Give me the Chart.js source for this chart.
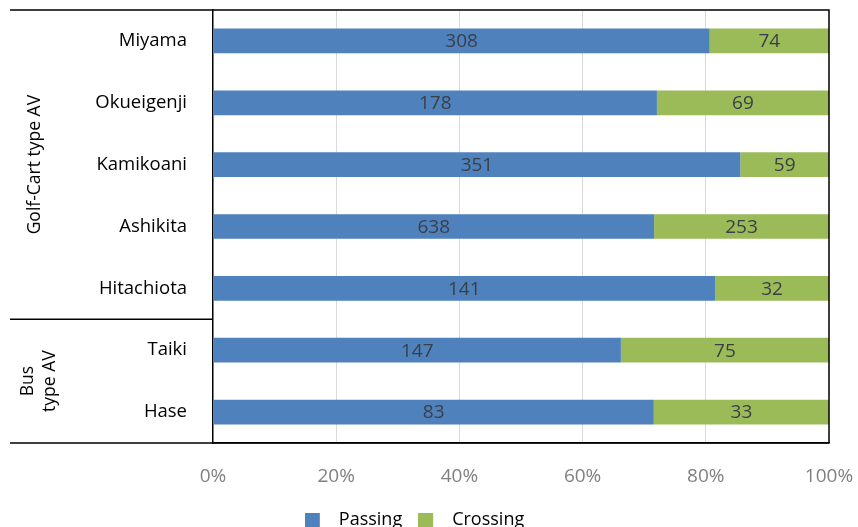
<!DOCTYPE html>
<html>
<head>
<meta charset="utf-8">
<script src="https://cdn.jsdelivr.net/npm/chart.js@4/dist/chart.umd.min.js"></script>
<style>
  html, body { margin: 0; padding: 0; background: #fff; }
  #wrap { width: 858px; height: 527px; position: relative; }
</style>
</head>
<body>
<div id="wrap"><canvas id="c"></canvas></div>
<script>
// Sites surveyed and the counts observed at each
const sites = ['Miyama', 'Okueigenji', 'Kamikoani', 'Ashikita', 'Hitachiota', 'Taiki', 'Hase'];
const passing = [308, 178, 351, 638, 141, 147, 83];
const crossing = [74, 69, 59, 253, 32, 75, 33];
const seriesNames = ['Passing', 'Crossing'];
const seriesColors = ['#4f81bd', '#9bbb59'];
// Vehicle-type groups (inclusive index ranges into sites)
const groupLabels = [['Golf-Cart type AV'], ['Bus', 'type AV']];
const groupRanges = [[0, 4], [5, 6]];

const FONT = "'Open Sans', 'Liberation Sans', sans-serif";

const totals = sites.map((_, i) => passing[i] + crossing[i]);
const share = arr => arr.map((v, i) => v / totals[i] * 100);
const counts = [passing, crossing];

// Fixed axis sizes with no label overhang, so the plot area stays put
const noOverhang = s => { s.paddingTop = s.paddingBottom = s.paddingLeft = s.paddingRight = 0; };

// Legend swatch: a 15px square on the left of a wider transparent cell,
// which leaves a wider gap before the legend text
const SWATCH_CELL = 25;
function swatch(color) {
  const c = document.createElement('canvas');
  c.width = SWATCH_CELL; c.height = 15;
  const g = c.getContext('2d');
  g.fillStyle = color;
  g.fillRect(0, 0, 15, 15);
  return c;
}
const swatches = seriesColors.map(swatch);

// Writes the raw count in the middle of each bar segment
const segmentLabels = {
  id: 'segmentLabels',
  afterDatasetsDraw(chart) {
    const ctx = chart.ctx;
    ctx.save();
    ctx.font = '19px ' + FONT;
    ctx.fillStyle = '#3a3f47';
    ctx.textAlign = 'center';
    ctx.textBaseline = 'middle';
    chart.data.datasets.forEach((ds, d) => {
      chart.getDatasetMeta(d).data.forEach((bar, i) => {
        ctx.fillText(String(counts[d][i]), (bar.x + bar.base) / 2, bar.y + 1);
      });
    });
    ctx.restore();
  }
};

// Outer frame, group separator and rotated group captions on the left
const groupFrame = {
  id: 'groupFrame',
  afterDraw(chart) {
    const { ctx, chartArea: a } = chart;
    const y = chart.scales.y;
    const left = 10;
    ctx.save();
    ctx.strokeStyle = '#000';
    ctx.lineWidth = 1.5;
    ctx.beginPath();
    ctx.moveTo(left, a.top); ctx.lineTo(a.right, a.top);
    ctx.lineTo(a.right, a.bottom);
    ctx.moveTo(left, a.bottom); ctx.lineTo(a.right, a.bottom);
    const step = y.getPixelForValue(1) - y.getPixelForValue(0);
    for (let g = 0; g < groupRanges.length - 1; g++) {
      const yy = y.getPixelForValue(groupRanges[g][1]) + step / 2;
      ctx.moveTo(left, yy); ctx.lineTo(a.left, yy);
    }
    ctx.stroke();

    ctx.fillStyle = '#000';
    ctx.font = '17.5px ' + FONT;
    ctx.textAlign = 'center';
    ctx.textBaseline = 'middle';
    const lineH = 22;
    groupRanges.forEach((r, g) => {
      const top = y.getPixelForValue(r[0]) - step / 2;
      const bot = y.getPixelForValue(r[1]) + step / 2;
      const lines = groupLabels[g];
      const cx = lines.length > 1 ? 39 : 35;
      ctx.save();
      ctx.translate(cx, (top + bot) / 2);
      ctx.rotate(-Math.PI / 2);
      lines.forEach((t, k) => {
        ctx.fillText(t, 0, (k - (lines.length - 1) / 2) * lineH);
      });
      ctx.restore();
    });
    ctx.restore();
  }
};

new Chart(document.getElementById('c'), {
  type: 'bar',
  data: {
    labels: sites,
    datasets: [
      { label: seriesNames[0], data: share(passing), backgroundColor: seriesColors[0], borderWidth: 0 },
      { label: seriesNames[1], data: share(crossing), backgroundColor: seriesColors[1], borderWidth: 0 }
    ]
  },
  options: {
    indexAxis: 'y',
    responsive: true,
    maintainAspectRatio: false,
    animation: false,
    datasets: { bar: { categoryPercentage: 1, barPercentage: 0.4 } },
    layout: { autoPadding: false, padding: { top: 10, right: 29, left: 0, bottom: -12 } },
    scales: {
      x: {
        stacked: true,
        min: 0, max: 100,
        afterFit(s) { s.height = 52; noOverhang(s); },
        ticks: {
          stepSize: 20,
          padding: 22,
          color: '#808080',
          font: { family: FONT, size: 19 },
          callback: v => v + '%'
        },
        grid: {
          drawTicks: false,
          color: c => (c.tick && (c.tick.value === 0 || c.tick.value === 100)) ? 'rgba(0,0,0,0)' : '#d9d9d9'
        },
        border: { display: true, color: '#000', width: 1.5 }
      },
      y: {
        stacked: true,
        afterFit(s) { s.width = 213; noOverhang(s); },
        ticks: {
          padding: 26,
          color: '#000',
          font: { family: FONT, size: 18.5 }
        },
        grid: { drawOnChartArea: false, drawTicks: false },
        border: { display: true, color: '#000', width: 1.5 }
      }
    },
    plugins: {
      tooltip: { enabled: false },
      legend: {
        position: 'bottom',
        labels: {
          usePointStyle: true,
          pointStyleWidth: SWATCH_CELL,
          boxHeight: 15,
          padding: 16,
          color: '#000',
          font: { family: FONT, size: 18 },
          generateLabels(chart) {
            return Chart.defaults.plugins.legend.labels.generateLabels(chart)
              .map((item, i) => Object.assign(item, { pointStyle: swatches[i] }));
          }
        }
      }
    }
  },
  plugins: [segmentLabels, groupFrame]
});
</script>
</body>
</html>
